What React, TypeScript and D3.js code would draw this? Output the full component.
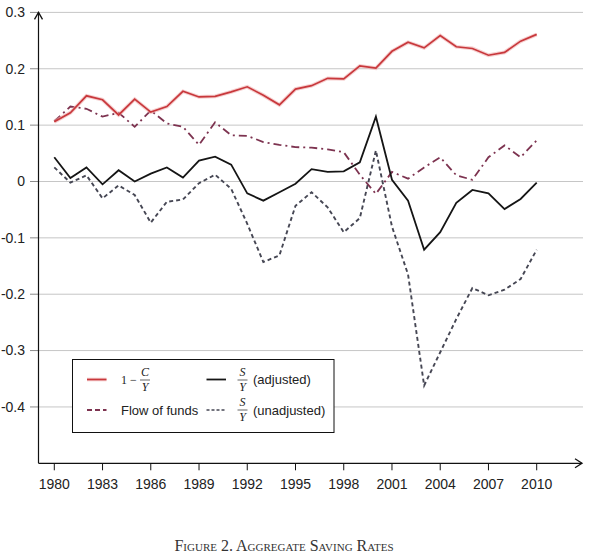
import React from "react";
import * as d3 from "d3";

const years: number[] = d3.range(1980, 2011);
const xTickYears: number[] = [1980, 1983, 1986, 1989, 1992, 1995, 1998, 2001, 2004, 2007, 2010];
const yTicks: number[] = [0.3, 0.2, 0.1, 0, -0.1, -0.2, -0.3, -0.4];
const yTickLabels: string[] = ["0.3", "0.2", "0.1", "0", "-0.1", "-0.2", "-0.3", "-0.4"];

const oneMinusCY: number[] = [
  0.106, 0.122, 0.152, 0.145, 0.118, 0.146, 0.123, 0.133, 0.160, 0.150,
  0.151, 0.159, 0.168, 0.153, 0.136, 0.164, 0.170, 0.183, 0.182, 0.205,
  0.201, 0.231, 0.247, 0.237, 0.259, 0.239, 0.236, 0.224, 0.229, 0.249, 0.261,
];
const flowOfFunds: number[] = [
  0.107, 0.133, 0.129, 0.115, 0.122, 0.097, 0.126, 0.103, 0.097, 0.065,
  0.105, 0.082, 0.081, 0.070, 0.065, 0.061, 0.060, 0.057, 0.052, 0.012,
  -0.022, 0.017, 0.005, 0.025, 0.043, 0.011, 0.003, 0.043, 0.064, 0.043, 0.073,
];
const sAdjusted: number[] = [
  0.043, 0.006, 0.025, -0.005, 0.020, 0.000, 0.014, 0.025, 0.007, 0.037,
  0.044, 0.030, -0.021, -0.034, -0.019, -0.004, 0.022, 0.017, 0.018, 0.034,
  0.115, 0.003, -0.034, -0.121, -0.090, -0.038, -0.015, -0.021, -0.049, -0.031, -0.002,
];
const sUnadjusted: number[] = [
  0.025, -0.002, 0.011, -0.030, -0.007, -0.024, -0.073, -0.036, -0.032, -0.003,
  0.012, -0.013, -0.075, -0.143, -0.131, -0.043, -0.019, -0.046, -0.090, -0.065,
  0.055, -0.080, -0.165, -0.362, -0.303, -0.244, -0.189, -0.202, -0.192, -0.173, -0.121,
];

const W = 608;
const H = 555;
const x = d3.scaleLinear().domain([1980, 2010]).range([54.3, 536.7]);
const y = d3.scaleLinear().domain([-0.5, 0.3]).range([463.3, 12.4]);
const axisX = 38.5;
const gridRight = 583;

const RED = "#c8383c";
const MAROON = "#7d3350";
const BLACK = "#151515";
const SLATE = "#464754";

const lineGen = (vals: number[]) =>
  d3
    .line<number>()
    .x((_, i) => x(years[i]))
    .y((v) => y(v))(vals) as string;

const sans = "'Liberation Sans', Arial, sans-serif";
const serif = "'Liberation Serif', 'Times New Roman', serif";

function Frac({ cx, cy, num, den }: { cx: number; cy: number; num: string; den: string }) {
  return (
    <g>
      <text x={cx} y={cy - 4} textAnchor="middle" fontFamily={serif} fontStyle="italic" fontSize={12} fill="#222">
        {num}
      </text>
      <line x1={cx - 5} x2={cx + 5} y1={cy} y2={cy} stroke="#222" strokeWidth={0.7} />
      <text x={cx} y={cy + 10.5} textAnchor="middle" fontFamily={serif} fontStyle="italic" fontSize={12} fill="#222">
        {den}
      </text>
    </g>
  );
}

export default function App() {
  const y0 = y(-0.5);
  const yTop = y(0.3);
  return (
    <svg
      width={W}
      height={H}
      viewBox={`0 0 ${W} ${H}`}
      style={{ position: "absolute", left: 0, top: 0, background: "#fff" }}
    >
      <rect x={0} y={0} width={W} height={H} fill="#fff" />
      {yTicks.map((t, i) => (
        <g key={t}>
          <line x1={axisX} x2={gridRight} y1={y(t)} y2={y(t)} stroke="#c6c6c6" strokeWidth={1} />
          <line x1={30} x2={axisX} y1={y(t)} y2={y(t)} stroke="#8a8a8a" strokeWidth={1} />
          <text x={25} y={y(t)} dy="0.35em" textAnchor="end" fontFamily={sans} fontSize={14} fill="#222">
            {yTickLabels[i]}
          </text>
        </g>
      ))}

      <line x1={axisX} x2={axisX} y1={y0} y2={yTop} stroke="#111" strokeWidth={1.2} />
      <path
        d={`M${axisX - 4},${yTop + 7} L${axisX},${yTop} L${axisX + 4},${yTop + 7}`}
        fill="none"
        stroke="#111"
        strokeWidth={1.3}
      />
      <line x1={axisX} x2={582} y1={y0} y2={y0} stroke="#111" strokeWidth={1.2} />
      <path d={`M575,${y0 - 4.5} L582,${y0} L575,${y0 + 4.5}`} fill="none" stroke="#111" strokeWidth={1.3} />
      {xTickYears.map((yr) => (
        <g key={yr}>
          <line x1={x(yr)} x2={x(yr)} y1={y0} y2={y0 + 7} stroke="#111" strokeWidth={1} />
          <text x={x(yr)} y={489} textAnchor="middle" fontFamily={sans} fontSize={14} fill="#222">
            {yr}
          </text>
        </g>
      ))}

      <path d={lineGen(sUnadjusted)} fill="none" stroke={SLATE} strokeWidth={1.9} strokeDasharray="4,3" />
      <path d={lineGen(flowOfFunds)} fill="none" stroke={MAROON} strokeWidth={1.8} strokeDasharray="8,4,2,4" />
      <path d={lineGen(sAdjusted)} fill="none" stroke={BLACK} strokeWidth={1.8} />
      <path d={lineGen(oneMinusCY)} fill="none" stroke="#efa9a9" strokeWidth={3.8} strokeOpacity={0.55} />
      <path d={lineGen(oneMinusCY)} fill="none" stroke={RED} strokeWidth={1.7} />

      <rect x={72.5} y={359.5} width={261.5} height={73} fill="#fff" stroke="#111" strokeWidth={1} />
      <line x1={87} x2={106.5} y1={379.5} y2={379.5} stroke="#efa9a9" strokeWidth={3.6} strokeOpacity={0.55} />
      <line x1={87} x2={106.5} y1={379.5} y2={379.5} stroke={RED} strokeWidth={1.7} />
      <text x={121} y={384} fontFamily={serif} fontSize={12} fill="#222">
        1 −
      </text>
      <Frac cx={145} cy={380} num="C" den="Y" />
      <line x1={87} x2={106.5} y1={410} y2={410} stroke={MAROON} strokeWidth={1.8} strokeDasharray="5,3" />
      <text x={121} y={414.5} fontFamily={sans} fontSize={13} fill="#222">
        Flow of funds
      </text>

      <line x1={206.5} x2={226} y1={379.5} y2={379.5} stroke={BLACK} strokeWidth={1.8} />
      <Frac cx={242.5} cy={380} num="S" den="Y" />
      <text x={253} y={384} fontFamily={sans} fontSize={13} fill="#222">
        (adjusted)
      </text>
      <line x1={206.5} x2={226} y1={410} y2={410} stroke={SLATE} strokeWidth={1.6} strokeDasharray="3,2" />
      <Frac cx={242.5} cy={410} num="S" den="Y" />
      <text x={253} y={414.5} fontFamily={sans} fontSize={13} fill="#222">
        (unadjusted)
      </text>

      <text
        x={284}
        y={550.5}
        textAnchor="middle"
        fontFamily={serif}
        fontSize={16}
        fill="#333"
        style={{ fontVariant: "small-caps" }}
      >
        Figure 2. Aggregate Saving Rates
      </text>
    </svg>
  );
}
